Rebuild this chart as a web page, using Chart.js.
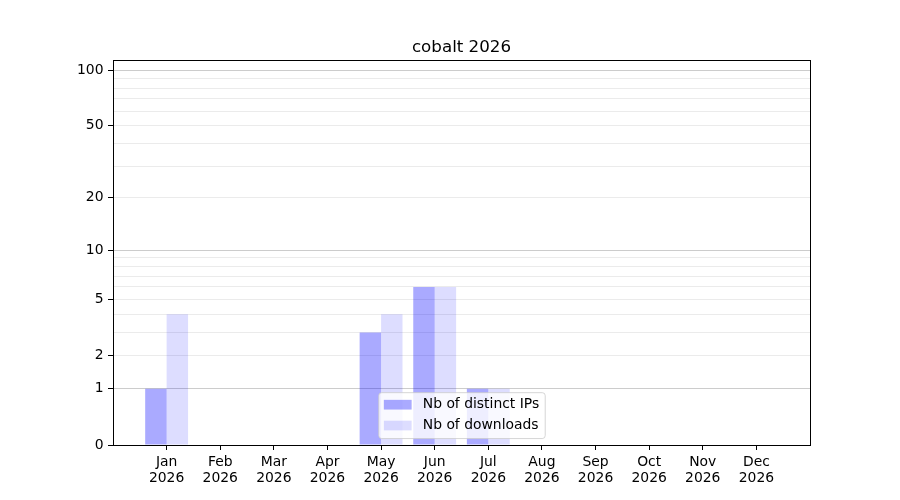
<!DOCTYPE html>
<html><head><meta charset="utf-8">
<script src="https://cdn.jsdelivr.net/npm/chart.js@4.4.1/dist/chart.umd.min.js"></script>
<style>html,body{margin:0;padding:0;background:#fff}canvas{display:block}</style>
</head><body>
<canvas id="c" width="900" height="500"></canvas>
<script>
const chartTitle = 'cobalt 2026';
const months = ['Jan','Feb','Mar','Apr','May','Jun','Jul','Aug','Sep','Oct','Nov','Dec'];
const years = ['2026','2026','2026','2026','2026','2026','2026','2026','2026','2026','2026','2026'];
const ipCounts = [1,0,0,0,3,6,1,0,0,0,0,0];
const downloadCounts = [4,0,0,0,4,6,1,0,0,0,0,0];
const yTickLabels = [0,1,2,5,10,20,50,100];
const yMajorGrid = [1,10,100];
const yMinorGrid = [2,3,4,5,6,7,8,9,20,30,40,50,60,70,80,90];
const yMax = 113.5;

const FONT = 'DejaVu Sans';
const FS = 13.9;
const f = v => Math.log10(1 + v);
const inv = t => Math.round(Math.pow(10, t) - 1);
const allYTicks = Array.from(new Set([0, ...yMajorGrid, ...yMinorGrid, ...yTickLabels])).sort((a,b)=>a-b);

const frameAndTitle = {
  id: 'frameAndTitle',
  afterDraw(chart) {
    const {ctx, chartArea: a} = chart;
    ctx.save();
    ctx.strokeStyle = '#000';
    ctx.lineWidth = 1;
    ctx.strokeRect(Math.round(a.left) + 0.5, Math.round(a.top) + 0.5, Math.round(a.right - a.left), Math.round(a.bottom - a.top));
    ctx.fillStyle = '#000';
    ctx.font = `16.7px "${FONT}"`;
    ctx.textAlign = 'center';
    ctx.textBaseline = 'alphabetic';
    ctx.fillText(chartTitle, (a.left + a.right) / 2, a.top - 8.3);

    // legend (matplotlib-like, lower center inside axes)
    ctx.font = `${FS}px "${FONT}"`;
    const ds = chart.data.datasets;
    const tw = Math.max(...ds.map(d => ctx.measureText(d.label).width));
    const pad = 0.4 * FS, hl = 2 * FS, htp = 0.8 * FS, ls = 0.5 * FS;
    const w = pad * 2 + hl + htp + tw;
    const rowH = FS;
    const h = pad * 2 + ds.length * rowH + (ds.length - 1) * ls;
    const x0 = (a.left + a.right) / 2 - w / 2;
    const y0 = a.bottom - 0.5 * FS - h;
    ctx.beginPath();
    const r = 3;
    ctx.roundRect(x0 + 0.5, y0 + 0.5, w, h, r);
    ctx.fillStyle = 'rgba(255,255,255,0.8)';
    ctx.fill();
    ctx.strokeStyle = 'rgba(204,204,204,0.8)';
    ctx.lineWidth = 1;
    ctx.stroke();
    ds.forEach((d, i) => {
      const cy = y0 + pad + i * (rowH + ls) + rowH / 2;
      ctx.fillStyle = d.backgroundColor;
      ctx.fillRect(x0 + pad, cy - 0.35 * FS, hl, 0.7 * FS);
      ctx.fillStyle = '#000';
      ctx.textAlign = 'left';
      ctx.textBaseline = 'middle';
      ctx.fillText(d.label, x0 + pad + hl + htp, cy);
    });
    ctx.restore();
  }
};

new Chart(document.getElementById('c'), {
  type: 'bar',
  data: {
    datasets: [
      { label: 'Nb of distinct IPs', data: ipCounts.map((v, i) => ({x: i, y: f(v)})), backgroundColor: 'rgba(0,0,255,0.333)', borderWidth: 0 },
      { label: 'Nb of downloads', data: downloadCounts.map((v, i) => ({x: i, y: f(v)})), backgroundColor: 'rgba(0,0,255,0.133)', borderWidth: 0 }
    ]
  },
  options: {
    responsive: false,
    animation: false,
    devicePixelRatio: 1,
    categoryPercentage: 0.8,
    barPercentage: 1.0,
    layout: { padding: { top: 60, left: 0, right: 90, bottom: 0 } },
    plugins: { legend: { display: false }, title: { display: false }, tooltip: { enabled: false } },
    events: [],
    scales: {
      x: {
        type: 'linear',
        min: -1, max: 12,
        offset: false,
        afterBuildTicks: s => { s.ticks = months.map((m, i) => ({value: i})); },
        afterFit: s => { s.height = 55; },
        grid: { offset: false, drawOnChartArea: false, tickLength: 5, tickColor: '#000', tickWidth: 1 },
        border: { display: true, color: '#000', width: 1 },
        ticks: {
          autoSkip: false, maxRotation: 0, padding: 4,
          color: '#000', font: { family: FONT, size: FS, lineHeight: 1.15 },
          callback: v => [months[v], years[v]]
        }
      },
      y: {
        type: 'linear',
        min: 0, max: f(yMax),
        afterBuildTicks: s => { s.ticks = allYTicks.map(v => ({value: f(v)})); },
        afterFit: s => { s.width = 113; },
        grid: {
          tickLength: 5, lineWidth: 1, tickWidth: 1,
          color: c => { const r = inv(c.tick.value); return r === 0 ? 'rgba(0,0,0,0)' : (yMajorGrid.includes(r) ? '#cccccc' : '#ebebeb'); },
          tickColor: c => yTickLabels.includes(inv(c.tick.value)) ? '#000' : 'rgba(0,0,0,0)'
        },
        border: { display: true, color: '#000', width: 1 },
        ticks: {
          autoSkip: false, padding: 4.5,
          color: '#000', font: { family: FONT, size: FS },
          callback: v => { const r = inv(v); return yTickLabels.includes(r) ? String(r) : ''; }
        }
      }
    }
  },
  plugins: [frameAndTitle]
});
</script>
</body></html>
